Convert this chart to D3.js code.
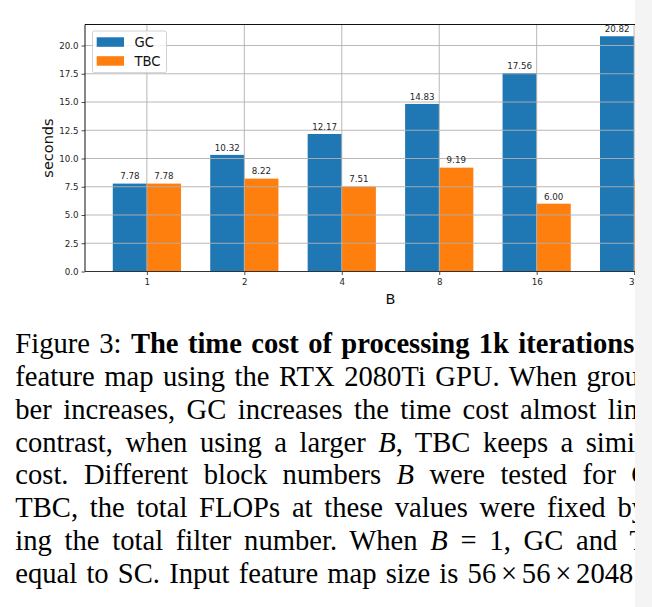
<!DOCTYPE html>
<html><head><meta charset="utf-8">
<script src="https://cdn.jsdelivr.net/npm/d3@7"></script>
<style>
html,body{margin:0;padding:0;background:#fff;}
svg{display:block;}
</style></head>
<body>
<svg id="c" width="652" height="607"></svg>
<script>
// ---- data ----
const categories = ["1", "2", "4", "8", "16", "32"];
const seriesNames = ["GC", "TBC"];
const gcValues = [7.78, 10.32, 12.17, 14.83, 17.56, 20.82];
const tbcValues = [7.78, 8.22, 7.51, 9.19, 6.00, 8.15];
const yTickValues = [0, 2.5, 5, 7.5, 10, 12.5, 15, 17.5, 20];
const xLabel = "B";
const yLabel = "seconds";
const captionLines = [
  [["Figure 3: ", "n"], ["The time cost of processing 1k iterations", "b"]],
  [["feature map using the RTX 2080Ti GPU. When grou", "n"]],
  [["ber increases, GC increases the time cost almost lin", "n"]],
  [["contrast, when using a larger ", "n"], ["B", "i"], [", TBC keeps a simi", "n"]],
  [["cost. Different block numbers ", "n"], ["B", "i"], [" were tested for G", "n"]],
  [["TBC, the total FLOPs at these values were fixed by", "n"]],
  [["ing the total filter number. When ", "n"], ["B", "i"], [" = 1, GC and T", "n"]],
  [["equal to SC. Input feature map size is 56\u2006×\u200656\u2006×\u20062048", "n"]]
];
const captionEnds = [634.3, 639, 638, 635, 652, 646, 647, 633.3];

// ---- layout ----
const W = 652, H = 607, clipX = 635;
const svg = d3.select("#c");
const colors = ["#1f77b4", "#ff7f0e"];
const n = categories.length;
const barW = 0.35;

const yMax = d3.max(gcValues.concat(tbcValues)) * 1.05;
const x = d3.scaleLinear().domain([-barW - 0.285, n - 1 + barW + 0.285]).range([85, 696]);
const y = d3.scaleLinear().domain([0, yMax]).range([271.5, 24.5]);

svg.append("rect").attr("width", W).attr("height", H).attr("fill", "#fff");
const defs = svg.append("defs");
defs.append("clipPath").attr("id", "clipAll").append("rect")
  .attr("x", 0).attr("y", 0).attr("width", clipX).attr("height", H);

const root = svg.append("g").attr("clip-path", "url(#clipAll)");
const g = root.append("g");

// bars
const series = [gcValues, tbcValues];
series.forEach((vals, si) => {
  g.append("g").selectAll("rect").data(vals).join("rect")
    .attr("x", (d, i) => x(i + (si === 0 ? -barW : 0)))
    .attr("width", x(barW) - x(0))
    .attr("y", d => y(d))
    .attr("height", d => y(0) - y(d))
    .attr("fill", colors[si]);
});

// grid
g.append("g").selectAll("line").data(yTickValues).join("line")
  .attr("x1", x.range()[0]).attr("x2", x.range()[1])
  .attr("y1", d => y(d)).attr("y2", d => y(d))
  .attr("stroke", "#b0b0b0").attr("stroke-width", 0.9);
g.append("g").selectAll("line").data(categories).join("line")
  .attr("x1", (d, i) => x(i)).attr("x2", (d, i) => x(i))
  .attr("y1", y.range()[0]).attr("y2", y.range()[1])
  .attr("stroke", "#b0b0b0").attr("stroke-width", 0.9);

// value labels (only those whose anchor lies inside the visible crop)
series.forEach((vals, si) => {
  const lx = i => x(i + (si === 0 ? -barW / 2 : barW / 2));
  g.append("g").selectAll("text").data(vals.map((v, i) => ({ v, i })).filter(o => lx(o.i) < clipX)).join("text")
    .attr("x", o => lx(o.i))
    .attr("y", o => y(o.v) - 4.2)
    .attr("text-anchor", "middle")
    .attr("font-family", "DejaVu Sans")
    .attr("font-size", 8.7)
    .attr("fill", "#262626")
    .text(o => o.v.toFixed(2));
});

// axes
const yAxis = d3.axisLeft(y).tickValues(yTickValues).tickFormat(d3.format(".1f")).tickSize(3.5).tickPadding(3);
const ya = g.append("g").attr("transform", `translate(${x.range()[0]},0)`).call(yAxis);
const xAxis = d3.axisBottom(x).tickValues(d3.range(n)).tickFormat(i => categories[i]).tickSize(3.5).tickPadding(3.5);
const xa = g.append("g").attr("transform", `translate(0,${y.range()[0]})`).call(xAxis);
[ya, xa].forEach(a => {
  a.select(".domain").remove();
  a.selectAll(".tick line").attr("stroke", "#222").attr("stroke-width", 0.8);
  a.selectAll(".tick text").attr("font-family", "DejaVu Sans").attr("font-size", 8.7).attr("fill", "#262626");
});

// spines
const [x0, x1] = x.range(), [yb, yt] = y.range();
g.append("line").attr("x1", x0).attr("x2", x0).attr("y1", yb).attr("y2", yt).attr("stroke", "#111").attr("stroke-width", 1);
g.append("line").attr("x1", x0).attr("x2", x1).attr("y1", yt).attr("y2", yt).attr("stroke", "#111").attr("stroke-width", 1);
g.append("line").attr("x1", x0).attr("x2", x1).attr("y1", yb).attr("y2", yb).attr("stroke", "#333").attr("stroke-width", 1.2);

// axis labels
g.append("text").attr("x", (x0 + x1) / 2).attr("y", 303.5).attr("text-anchor", "middle")
  .attr("font-family", "DejaVu Sans").attr("font-size", 14.5).attr("fill", "#111").text(xLabel);
g.append("text").attr("transform", `translate(52.5,${(yb + yt) / 2}) rotate(-90)`).attr("text-anchor", "middle")
  .attr("font-family", "DejaVu Sans").attr("font-size", 14.5).attr("fill", "#111").text(yLabel);

// legend
const lg = g.append("g");
lg.append("rect").attr("x", 92.5).attr("y", 31).attr("width", 74).attr("height", 41.7).attr("rx", 2)
  .attr("fill", "#fff").attr("fill-opacity", 0.8).attr("stroke", "#cccccc").attr("stroke-width", 0.9);
seriesNames.forEach((s, i) => {
  lg.append("rect").attr("x", 96.7).attr("y", 37.3 + i * 18.9).attr("width", 27.3).attr("height", 9.5).attr("fill", colors[i]);
  lg.append("text").attr("x", 134.5).attr("y", 46.8 + i * 18.9).attr("font-family", "DejaVu Sans")
    .attr("font-size", 13.2).attr("fill", "#111").text(s);
});

// caption
const cap = root.append("g").attr("font-family", "Liberation Serif").attr("font-size", 28.6).attr("fill", "#000");
captionLines.forEach((segs, li) => {
  const t = cap.append("text").attr("x", 15.3).attr("y", 352.8 + li * 32.9);
  segs.forEach(([txt, sty]) => {
    const ts = t.append("tspan").text(txt);
    if (sty === "b") ts.attr("font-weight", "bold");
    if (sty === "i") ts.attr("font-style", "italic");
  });
  const natural = t.node().getComputedTextLength();
  const full = segs.map(s => s[0]).join("");
  const spaces = (full.match(/ /g) || []).length;
  const extra = (captionEnds[li] - 15.3 - natural) / spaces;
  t.attr("word-spacing", extra);
});

// right strip
svg.append("rect").attr("x", clipX).attr("y", 0).attr("width", W - clipX).attr("height", H).attr("fill", "#f4f4f4");
</script>
</body></html>
